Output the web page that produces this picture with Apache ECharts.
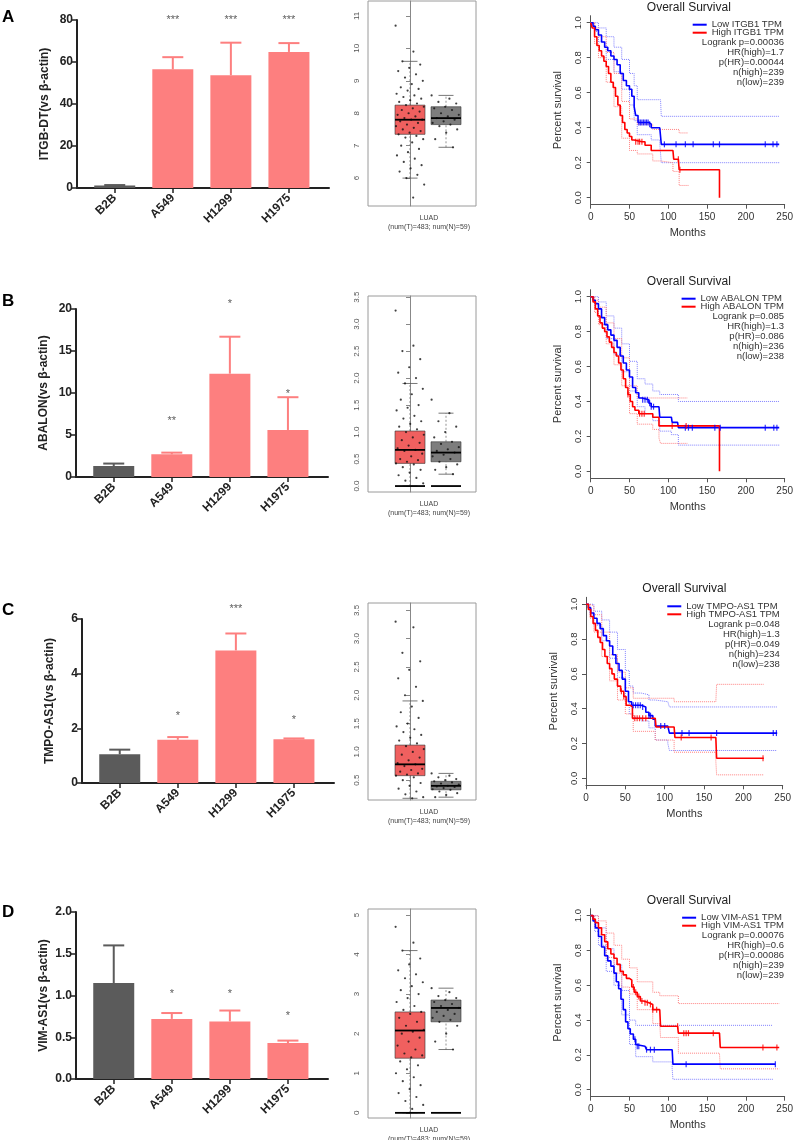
<!DOCTYPE html>
<html>
<head>
<meta charset="utf-8">
<title>ITGB-DT / ABALON / TMPO-AS1 / VIM-AS1</title>
<script src="https://cdn.jsdelivr.net/npm/echarts@6/dist/echarts.min.js"></script>
<style>
  html, body { margin: 0; padding: 0; background: #fff; }
  #main { width: 796px; height: 1140px; }
</style>
</head>
<body>
<div id="main"></div>
<script>
// ---------- 柱状图数据 ----------
const cellLines = ['B2B', 'A549', 'H1299', 'H1975'];
const genes = ['ITGB-DT', 'ABALON', 'TMPO-AS1', 'VIM-AS1'];
const panelLetters = ['A', 'B', 'C', 'D'];
const barMeans = [
    [1.2, 56.5, 53.7, 64.8],
    [1.3, 2.7, 12.3, 5.6],
    [1.05, 1.58, 4.85, 1.6],
    [1.15, 0.72, 0.69, 0.43]
];
const barErrors = [
    [0.2, 5.8, 15.5, 4.2],
    [0.3, 0.2, 4.4, 3.9],
    [0.17, 0.1, 0.62, 0.03],
    [0.45, 0.07, 0.13, 0.03]
];
const sigText = [
    ['', '***', '***', '***'],
    ['', '**', '*', '*'],
    ['', '*', '***', '*'],
    ['', '*', '*', '*']
];
const sigHeight = [
    [0, 81.5, 81.5, 81.5],
    [0, 7.0, 20.9, 10.3],
    [0, 2.57, 6.48, 2.42],
    [0, 1.06, 1.06, 0.79]
];
const barMax = [80, 20, 6, 2];
const barStep = [20, 5, 2, 0.5];

// ---------- 箱线图数据 (LUAD) ----------
const boxTicks = [
    [6, 7, 8, 9, 10, 11],
    [0, 0.5, 1, 1.5, 2, 2.5, 3, 3.5],
    [0.5, 1, 1.5, 2, 2.5, 3, 3.5],
    [0, 1, 2, 3, 4, 5]
];
const boxRange = [[5.14, 11.46], [-0.11, 3.52], [0.15, 3.63], [-0.13, 5.15]];
// [min, Q1, median, Q3, max]
const tumorStats = [
    [6.0, 7.35, 7.8, 8.25, 9.6],
    [0, 0.42, 0.67, 1.02, 1.9],
    [0.18, 0.58, 0.78, 1.12, 1.9],
    [0, 1.38, 2.08, 2.55, 4.1]
];
const normalStats = [
    [6.95, 7.65, 7.85, 8.2, 8.55],
    [0.22, 0.45, 0.62, 0.82, 1.35],
    [0.2, 0.33, 0.4, 0.48, 0.62],
    [1.6, 2.3, 2.65, 2.85, 3.15]
];
const zeroLine = [false, true, false, true];
const tumorPoints = [
    [10.7, 9.9, 9.6, 9.5, 9.4, 9.3, 9.2, 9.1, 9.0, 8.9, 8.8, 8.75, 8.7, 8.6, 8.55, 8.5, 8.45, 8.4, 8.35, 8.3, 8.25, 8.2, 8.15, 8.1, 8.05, 8.0, 7.95, 7.9, 7.85, 7.8, 7.8, 7.75, 7.7, 7.65, 7.6, 7.55, 7.5, 7.45, 7.4, 7.35, 7.3, 7.25, 7.2, 7.1, 7.0, 6.9, 6.8, 6.7, 6.6, 6.5, 6.4, 6.3, 6.2, 6.1, 6.0, 5.8, 5.4],
    [3.25, 2.6, 2.5, 2.35, 2.2, 2.1, 2.0, 1.9, 1.8, 1.7, 1.6, 1.5, 1.45, 1.4, 1.3, 1.25, 1.2, 1.15, 1.1, 1.05, 1.0, 0.95, 0.9, 0.85, 0.8, 0.75, 0.7, 0.67, 0.65, 0.6, 0.55, 0.5, 0.48, 0.45, 0.42, 0.4, 0.35, 0.3, 0.25, 0.2, 0.15, 0.1, 0.05],
    [3.3, 3.2, 2.75, 2.6, 2.45, 2.3, 2.15, 2.0, 1.9, 1.8, 1.7, 1.6, 1.5, 1.45, 1.4, 1.35, 1.3, 1.25, 1.2, 1.15, 1.1, 1.05, 1.0, 0.95, 0.9, 0.85, 0.8, 0.78, 0.75, 0.7, 0.68, 0.65, 0.62, 0.6, 0.58, 0.55, 0.5, 0.45, 0.4, 0.35, 0.3, 0.25, 0.2, 0.18],
    [4.7, 4.3, 4.1, 3.9, 3.75, 3.6, 3.5, 3.4, 3.3, 3.2, 3.1, 3.0, 2.9, 2.8, 2.7, 2.6, 2.55, 2.5, 2.4, 2.3, 2.2, 2.1, 2.05, 2.0, 1.9, 1.8, 1.7, 1.6, 1.5, 1.45, 1.4, 1.3, 1.2, 1.1, 1.0, 0.9, 0.8, 0.7, 0.6, 0.5, 0.4, 0.3, 0.2, 0.1]
];
const normalPoints = [
    [8.55, 8.45, 8.35, 8.3, 8.2, 8.15, 8.1, 8.0, 7.95, 7.9, 7.85, 7.8, 7.75, 7.7, 7.65, 7.6, 7.5, 7.4, 7.2, 6.95],
    [1.6, 1.35, 1.2, 1.1, 1.0, 0.9, 0.82, 0.78, 0.72, 0.68, 0.65, 0.62, 0.58, 0.55, 0.5, 0.45, 0.4, 0.35, 0.3, 0.22],
    [0.62, 0.58, 0.55, 0.52, 0.5, 0.48, 0.46, 0.44, 0.42, 0.4, 0.39, 0.38, 0.36, 0.34, 0.33, 0.3, 0.27, 0.24, 0.2],
    [3.15, 3.05, 2.95, 2.9, 2.85, 2.8, 2.75, 2.7, 2.65, 2.6, 2.55, 2.5, 2.45, 2.4, 2.35, 2.3, 2.2, 2.0, 1.8, 1.6]
];

// ---------- 生存曲线数据 ----------
const survGenes = ['ITGB1', 'ABALON', 'TMPO-AS1', 'VIM-AS1'];
const survStats = [
    ['Logrank p=0.00036', 'HR(high)=1.7', 'p(HR)=0.00044', 'n(high)=239', 'n(low)=239'],
    ['Logrank p=0.085', 'HR(high)=1.3', 'p(HR)=0.086', 'n(high)=236', 'n(low)=238'],
    ['Logrank p=0.048', 'HR(high)=1.3', 'p(HR)=0.049', 'n(high)=234', 'n(low)=238'],
    ['Logrank p=0.00076', 'HR(high)=0.6', 'p(HR)=0.00086', 'n(high)=239', 'n(low)=239']
];
const survTicksY = [0, 0.2, 0.4, 0.6, 0.8, 1.0];
const lowCurve = [
    [[0,1],[3,0.98],[6,0.96],[10,0.93],[14,0.89],[18,0.86],[22,0.84],[26,0.81],[30,0.79],[34,0.76],[38,0.71],[42,0.67],[46,0.64],[50,0.62],[53,0.58],[56,0.52],[58,0.47],[61,0.43],[75,0.42],[78,0.40],[89,0.40],[91,0.305],[243,0.305]],
    [[0,1],[3,0.98],[6,0.96],[10,0.93],[14,0.88],[18,0.84],[22,0.81],[26,0.78],[30,0.75],[34,0.71],[38,0.66],[42,0.62],[46,0.58],[50,0.54],[54,0.48],[58,0.45],[62,0.42],[66,0.41],[75,0.39],[78,0.37],[88,0.37],[89,0.31],[104,0.31],[105,0.28],[112,0.28],[113,0.25],[243,0.25]],
    [[0,1],[3,0.98],[6,0.95],[10,0.92],[14,0.89],[18,0.86],[22,0.82],[26,0.79],[30,0.76],[34,0.71],[38,0.66],[42,0.62],[46,0.57],[50,0.50],[54,0.44],[58,0.42],[70,0.41],[76,0.38],[80,0.36],[85,0.34],[88,0.30],[104,0.30],[106,0.26],[243,0.26]],
    [[0,1],[3,0.97],[6,0.93],[10,0.88],[14,0.82],[18,0.77],[22,0.74],[26,0.71],[30,0.67],[33,0.62],[36,0.58],[39,0.52],[42,0.46],[45,0.39],[48,0.35],[51,0.32],[55,0.29],[58,0.26],[60,0.25],[70,0.25],[72,0.23],[105,0.23],[106,0.147],[238,0.147]]
];
const highCurve = [
    [[0,1],[2,0.97],[5,0.92],[8,0.87],[11,0.84],[14,0.81],[17,0.78],[20,0.75],[23,0.71],[26,0.66],[29,0.63],[32,0.58],[35,0.53],[38,0.47],[41,0.43],[44,0.39],[47,0.37],[50,0.35],[53,0.33],[56,0.32],[66,0.32],[70,0.30],[78,0.27],[106,0.27],[107,0.22],[113,0.22],[114,0.16],[166,0.16],[166,0]],
    [[0,1],[3,0.97],[6,0.93],[9,0.89],[12,0.85],[15,0.82],[18,0.80],[21,0.77],[24,0.74],[27,0.71],[30,0.68],[33,0.66],[36,0.62],[39,0.58],[42,0.53],[45,0.48],[48,0.44],[51,0.40],[54,0.37],[57,0.35],[62,0.33],[75,0.33],[80,0.31],[88,0.26],[166,0.26],[166,0]],
    [[0,1],[3,0.97],[6,0.93],[9,0.89],[12,0.85],[15,0.81],[18,0.78],[21,0.74],[24,0.70],[27,0.66],[30,0.63],[33,0.60],[36,0.57],[40,0.53],[44,0.50],[48,0.47],[51,0.42],[56,0.41],[59,0.345],[88,0.345],[89,0.295],[112,0.295],[113,0.235],[165,0.235],[166,0.115],[226,0.115]],
    [[0,1],[3,0.98],[6,0.96],[10,0.93],[14,0.89],[18,0.85],[22,0.81],[26,0.78],[30,0.755],[34,0.72],[38,0.68],[42,0.66],[46,0.64],[50,0.63],[53,0.59],[56,0.56],[60,0.535],[64,0.51],[68,0.50],[75,0.49],[80,0.46],[89,0.46],[90,0.365],[112,0.365],[113,0.325],[166,0.325],[167,0.243],[243,0.243]]
];
const lowUpper = [
    [[0,1],[5,1],[10,0.97],[20,0.92],[30,0.86],[40,0.79],[50,0.71],[56,0.64],[60,0.56],[90,0.56],[91,0.465],[243,0.465]],
    [[0,1],[5,1],[10,0.97],[20,0.89],[30,0.82],[40,0.73],[50,0.63],[60,0.53],[70,0.50],[80,0.46],[89,0.44],[104,0.44],[113,0.40],[243,0.40]],
    [[0,1],[5,1],[10,0.96],[20,0.91],[30,0.84],[40,0.74],[50,0.62],[55,0.53],[60,0.49],[70,0.48],[80,0.45],[88,0.44],[104,0.43],[106,0.41],[243,0.41]],
    [[0,1],[5,1],[10,0.93],[20,0.81],[30,0.72],[40,0.57],[50,0.40],[58,0.37],[105,0.37],[235,0.37]]
];
const lowLower = [
    [[0,1],[5,0.95],[10,0.89],[20,0.79],[30,0.72],[40,0.62],[50,0.53],[56,0.44],[60,0.36],[78,0.33],[89,0.31],[91,0.2],[243,0.2]],
    [[0,1],[5,0.93],[10,0.88],[20,0.76],[30,0.67],[40,0.57],[50,0.46],[60,0.37],[70,0.33],[80,0.29],[89,0.23],[104,0.21],[113,0.15],[243,0.15]],
    [[0,1],[5,0.94],[10,0.88],[20,0.79],[30,0.69],[40,0.58],[50,0.45],[55,0.37],[60,0.35],[70,0.33],[80,0.29],[88,0.22],[104,0.20],[106,0.16],[243,0.16]],
    [[0,1],[5,0.91],[10,0.83],[20,0.68],[30,0.60],[40,0.43],[50,0.26],[58,0.19],[80,0.16],[105,0.12],[106,0.06],[235,0.06]]
];
const highUpper = [
    [[0,1],[5,0.97],[10,0.92],[20,0.83],[30,0.71],[40,0.55],[50,0.45],[60,0.42],[80,0.39],[106,0.39],[114,0.37],[126,0.37]],
    [[0,1],[5,0.98],[10,0.94],[20,0.85],[30,0.76],[40,0.65],[50,0.49],[60,0.42],[88,0.42],[125,0.42]],
    [[0,1],[5,0.99],[10,0.94],[20,0.84],[30,0.71],[40,0.61],[50,0.52],[60,0.46],[88,0.46],[112,0.44],[165,0.44],[166,0.54],[226,0.54]],
    [[0,1],[5,1],[10,0.97],[20,0.90],[30,0.83],[40,0.75],[50,0.70],[60,0.62],[80,0.56],[89,0.54],[113,0.495],[243,0.495]]
];
const highLower = [
    [[0,1],[5,0.88],[10,0.80],[20,0.66],[30,0.52],[40,0.34],[50,0.27],[60,0.25],[80,0.21],[90,0.20],[106,0.15],[114,0.07],[126,0.07]],
    [[0,1],[5,0.91],[10,0.84],[20,0.73],[30,0.61],[40,0.49],[50,0.33],[60,0.27],[80,0.24],[88,0.19],[90,0.16],[125,0.16]],
    [[0,1],[5,0.92],[10,0.84],[20,0.70],[30,0.56],[40,0.45],[50,0.37],[60,0.27],[88,0.22],[112,0.15],[165,0.10],[166,0.02],[226,0.02]],
    [[0,1],[5,0.94],[10,0.89],[20,0.76],[30,0.67],[40,0.59],[50,0.55],[60,0.46],[80,0.38],[89,0.37],[90,0.30],[113,0.21],[166,0.21],[167,0.12],[243,0.12]]
];
const lowCensor = [
    [62, 64, 66, 68, 70, 72, 74, 76, 95, 110, 122, 132, 158, 166, 225, 235, 240],
    [67, 70, 73, 76, 78, 81, 122, 126, 131, 160, 167, 225, 236, 240],
    [60, 63, 66, 69, 72, 80, 82, 95, 100, 122, 131, 166, 238, 242],
    [57, 60, 62, 72, 77, 82, 123, 238]
];
const highCensor = [
    [58, 61, 63, 66, 113, 115],
    [48, 63, 66, 69, 105, 123],
    [45, 48, 62, 65, 68, 72, 76, 121, 159, 225],
    [55, 58, 62, 66, 70, 73, 77, 80, 85, 112, 120, 123, 126, 158, 222, 240]
];

// ---------- 布局 ----------
const FONT = 'Liberation Sans, Arial, Helvetica, sans-serif';
const PINK = '#fd7f7f';
const GRAY = '#5b5b5b';
const TUMOR = '#f0605f';
const NORMAL = '#7d7d7d';
const BLUE = '#0000ff';
const RED = '#ff0000';

const barGrid = [
    { left: 77, top: 20, height: 168 },
    { left: 76, top: 309, height: 168 },
    { left: 82, top: 619, height: 164 },
    { left: 76, top: 912, height: 167 }
];
const letterY = [17.5, 301.5, 610, 912];
const boxGrid = [
    { top: 1, bottom: 206 },
    { top: 296, bottom: 492 },
    { top: 603, bottom: 800 },
    { top: 909, bottom: 1118 }
];
const BOX_LEFT = 368, BOX_WIDTH = 108, BOX_W = 0.833;
const survGrid = [
    { left: 590.7, top: 15.7, width: 196.3, height: 189 },
    { left: 590.7, top: 289.7, width: 196.3, height: 188.6 },
    { left: 586, top: 597.3, width: 196.7, height: 188 },
    { left: 590.7, top: 908.7, width: 196.3, height: 188 }
];

const grid = [], xAxis = [], yAxis = [], series = [], legend = [], graphic = [];

function survAt(curve, t) {
    let s = curve[0][1];
    for (const p of curve) {
        if (p[0] <= t) s = p[1]; else break;
    }
    return s;
}

function fmt1(v) { return Number(v).toFixed(1); }

for (let r = 0; r < 4; r++) {
    // ===== 柱状图 =====
    let gi = grid.length;
    grid.push({ left: barGrid[r].left, top: barGrid[r].top, width: 252, height: barGrid[r].height });
    xAxis.push({
        gridIndex: gi, type: 'value', min: -0.65, max: 3.69,
        axisLine: { onZero: false, lineStyle: { color: '#222', width: 2 } },
        axisTick: { customValues: [0, 1, 2, 3], length: 5, lineStyle: { color: '#222', width: 1.5 } },
        axisLabel: {
            customValues: [0, 1, 2, 3], rotate: 45, margin: 8,
            formatter: v => cellLines[v],
            fontFamily: FONT, fontWeight: 'bold', fontSize: 12, color: '#222'
        },
        splitLine: { show: false }
    });
    yAxis.push({
        gridIndex: gi, type: 'value', min: 0, max: barMax[r], interval: barStep[r],
        axisLine: { show: true, onZero: false, lineStyle: { color: '#222', width: 2 } },
        axisTick: { show: true, length: 5, lineStyle: { color: '#222', width: 1.5 } },
        axisLabel: {
            formatter: r === 3 ? fmt1 : (v => v), margin: 4,
            fontFamily: FONT, fontWeight: 'bold', fontSize: 12, color: '#222'
        },
        splitLine: { show: false },
        name: genes[r] + '(vs β-actin)', nameLocation: 'middle', nameGap: 26,
        nameTextStyle: { fontFamily: FONT, fontWeight: 'bold', fontSize: 12, color: '#222' }
    });
    series.push({
        type: 'bar', xAxisIndex: gi, yAxisIndex: gi, barWidth: 41, z: 2,
        data: barMeans[r].map((v, i) => ({ value: [i, v], itemStyle: { color: i === 0 ? GRAY : PINK } }))
    });
    series.push({
        type: 'custom', xAxisIndex: gi, yAxisIndex: gi, z: 3,
        encode: { x: 0, y: 1 },
        data: barMeans[r].map((v, i) => [i, v, barErrors[r][i]]),
        renderItem: (params, api) => {
            const x = api.value(0), m = api.value(1), e = api.value(2);
            const p0 = api.coord([x, m]), p1 = api.coord([x, m + e]);
            const color = x === 0 ? GRAY : PINK;
            return {
                type: 'group', children: [
                    { type: 'line', shape: { x1: p0[0], y1: p0[1], x2: p1[0], y2: p1[1] }, style: { stroke: color, lineWidth: 2 } },
                    { type: 'line', shape: { x1: p1[0] - 10.5, y1: p1[1], x2: p1[0] + 10.5, y2: p1[1] }, style: { stroke: color, lineWidth: 2 } }
                ]
            };
        }
    });
    series.push({
        type: 'scatter', xAxisIndex: gi, yAxisIndex: gi, clip: false, symbolSize: 1, z: 4,
        itemStyle: { color: 'transparent' },
        data: sigHeight[r].map((h, i) => [i, h]).filter((d, i) => sigText[r][i] !== ''),
        label: {
            show: true, position: 'inside', offset: [0, 3],
            formatter: p => sigText[r][p.data[0]],
            fontFamily: FONT, fontSize: 11, color: '#333'
        }
    });
    graphic.push({
        type: 'text', x: 2, y: letterY[r],
        style: { text: panelLetters[r], fontFamily: FONT, fontSize: 17, fontWeight: 'bold', fill: '#000', verticalAlign: 'middle' }
    });

    // ===== 箱线图 =====
    gi = grid.length;
    const bg = boxGrid[r];
    grid.push({ left: BOX_LEFT, top: bg.top, width: BOX_WIDTH, height: bg.bottom - bg.top, show: true, borderColor: '#9a9a9a', borderWidth: 1 });
    xAxis.push({ gridIndex: gi, type: 'value', min: -1.167, max: 1.833, show: false });
    yAxis.push({
        gridIndex: gi, type: 'value', min: boxRange[r][0], max: boxRange[r][1], offset: 5,
        axisLine: { show: true, lineStyle: { color: '#888', width: 1 } },
        axisTick: { show: true, customValues: boxTicks[r], length: 4, lineStyle: { color: '#888' } },
        axisLabel: {
            customValues: boxTicks[r], rotate: 90, margin: 2,
            formatter: (r === 0 || r === 3) ? (v => String(v)) : fmt1,
            fontFamily: FONT, fontSize: 8, color: '#555'
        },
        splitLine: { show: false }
    });
    const boxData = [[0].concat(tumorStats[r]), [1].concat(normalStats[r])];
    series.push({
        type: 'custom', xAxisIndex: gi, yAxisIndex: gi, z: 2,
        encode: { x: 0, y: [1, 5] },
        data: boxData,
        renderItem: (params, api) => {
            const x = api.value(0);
            const pMin = api.coord([x, api.value(1)]);
            const pQ1 = api.coord([x, api.value(2)]);
            const pQ3 = api.coord([x, api.value(4)]);
            const pMax = api.coord([x, api.value(5)]);
            const hw = api.size([BOX_W, 0])[0] / 2;
            const cx = pMin[0];
            const dash = { stroke: '#777', lineWidth: 0.8, lineDash: [2, 2] };
            const cap = { stroke: '#555', lineWidth: 0.8 };
            return {
                type: 'group', children: [
                    { type: 'line', shape: { x1: cx, y1: pMin[1], x2: cx, y2: pQ1[1] }, style: dash },
                    { type: 'line', shape: { x1: cx, y1: pQ3[1], x2: cx, y2: pMax[1] }, style: dash },
                    { type: 'line', shape: { x1: cx - hw / 2, y1: pMin[1], x2: cx + hw / 2, y2: pMin[1] }, style: cap },
                    { type: 'line', shape: { x1: cx - hw / 2, y1: pMax[1], x2: cx + hw / 2, y2: pMax[1] }, style: cap },
                    { type: 'rect', shape: { x: cx - hw, y: pQ3[1], width: hw * 2, height: pQ1[1] - pQ3[1] },
                      style: { fill: x === 0 ? TUMOR : NORMAL, stroke: '#333', lineWidth: 0.6 } }
                ]
            };
        }
    });
    const pts = [];
    tumorPoints[r].forEach((v, i) => pts.push([((i * 0.618034) % 1 - 0.5) * 0.8, v]));
    normalPoints[r].forEach((v, i) => pts.push([1 + ((i * 0.618034) % 1 - 0.5) * 0.8, v]));
    series.push({
        type: 'scatter', xAxisIndex: gi, yAxisIndex: gi, z: 3, symbolSize: 2.2,
        itemStyle: { color: '#111' }, data: pts
    });
    series.push({
        type: 'custom', xAxisIndex: gi, yAxisIndex: gi, z: 4,
        encode: { x: 0, y: 3 },
        data: boxData,
        renderItem: (params, api) => {
            const x = api.value(0);
            const pMed = api.coord([x, api.value(3)]);
            const p0 = api.coord([x, 0]);
            const hw = api.size([BOX_W, 0])[0] / 2;
            const children = [
                { type: 'line', shape: { x1: pMed[0] - hw, y1: pMed[1], x2: pMed[0] + hw, y2: pMed[1] }, style: { stroke: '#000', lineWidth: 1.8 } }
            ];
            if (zeroLine[r]) {
                children.push({ type: 'line', shape: { x1: p0[0] - hw, y1: p0[1], x2: p0[0] + hw, y2: p0[1] }, style: { stroke: '#000', lineWidth: 1.8 } });
            }
            return { type: 'group', children };
        }
    });
    graphic.push({
        type: 'text', x: 429, y: bg.bottom + 12,
        style: { text: 'LUAD', fontFamily: FONT, fontSize: 7, fill: '#444', align: 'center', verticalAlign: 'middle' }
    });
    graphic.push({
        type: 'text', x: 429, y: bg.bottom + 21,
        style: { text: '(num(T)=483; num(N)=59)', fontFamily: FONT, fontSize: 7, fill: '#444', align: 'center', verticalAlign: 'middle' }
    });

    // ===== 生存曲线 =====
    gi = grid.length;
    const sg = survGrid[r];
    grid.push({ left: sg.left, top: sg.top, width: sg.width, height: sg.height });
    xAxis.push({
        gridIndex: gi, type: 'value', min: 0, max: 250, interval: 50,
        axisLine: { onZero: false, lineStyle: { color: '#555', width: 1 } },
        axisTick: { show: true, length: 4, lineStyle: { color: '#555' } },
        axisLabel: { margin: 8, fontFamily: FONT, fontSize: 10, color: '#333' },
        splitLine: { show: false },
        name: 'Months', nameLocation: 'middle', nameGap: 23,
        nameTextStyle: { fontFamily: FONT, fontSize: 11, color: '#333' }
    });
    yAxis.push({
        gridIndex: gi, type: 'value', min: -0.04, max: 1.04,
        axisLine: { show: true, onZero: false, lineStyle: { color: '#555', width: 1 } },
        axisTick: { show: true, customValues: survTicksY, length: 4, lineStyle: { color: '#555' } },
        axisLabel: { customValues: survTicksY, rotate: 90, margin: 7, formatter: fmt1, fontFamily: FONT, fontSize: 9.5, color: '#333' },
        splitLine: { show: false },
        name: 'Percent survival', nameLocation: 'middle', nameGap: 27,
        nameTextStyle: { fontFamily: FONT, fontSize: 11, color: '#333' }
    });
    const lowName = 'Low ' + survGenes[r] + ' TPM';
    const highName = 'High ' + survGenes[r] + ' TPM';
    const ci = (name, data, color) => ({
        name, type: 'line', step: 'end', xAxisIndex: gi, yAxisIndex: gi, data, showSymbol: false, silent: true, z: 2,
        lineStyle: { color, width: 1, type: 'dotted' }, itemStyle: { color }
    });
    series.push(ci('lowUp' + r, lowUpper[r], '#8080ff'));
    series.push(ci('lowDn' + r, lowLower[r], '#8080ff'));
    series.push(ci('highUp' + r, highUpper[r], '#ff8080'));
    series.push(ci('highDn' + r, highLower[r], '#ff8080'));
    series.push({
        name: lowName, type: 'line', step: 'end', xAxisIndex: gi, yAxisIndex: gi, data: lowCurve[r],
        showSymbol: false, z: 3, lineStyle: { color: BLUE, width: 1.6 }, itemStyle: { color: BLUE }
    });
    series.push({
        name: highName, type: 'line', step: 'end', xAxisIndex: gi, yAxisIndex: gi, data: highCurve[r],
        showSymbol: false, z: 3, lineStyle: { color: RED, width: 1.6 }, itemStyle: { color: RED }
    });
    series.push({
        type: 'scatter', xAxisIndex: gi, yAxisIndex: gi, z: 4, symbol: 'rect', symbolSize: [1.2, 6],
        itemStyle: { color: BLUE }, data: lowCensor[r].map(t => [t, survAt(lowCurve[r], t)])
    });
    series.push({
        type: 'scatter', xAxisIndex: gi, yAxisIndex: gi, z: 4, symbol: 'rect', symbolSize: [1.2, 6],
        itemStyle: { color: RED }, data: highCensor[r].map(t => [t, survAt(highCurve[r], t)])
    });
    const rightEdge = sg.left + sg.width - 3;
    legend.push({
        data: [lowName, highName], orient: 'vertical', selectedMode: false,
        right: 796 - rightEdge, top: sg.top + 4, padding: 0, itemGap: -2,
        itemWidth: 14, itemHeight: 2, icon: 'rect',
        textStyle: { fontFamily: FONT, fontSize: 9.5, color: '#333', lineHeight: 10 }
    });
    graphic.push({
        type: 'text', x: rightEdge, y: sg.top + 22,
        style: { text: survStats[r].join('\n'), fontFamily: FONT, fontSize: 9.5, lineHeight: 10, fill: '#333', align: 'right', verticalAlign: 'top' }
    });
    graphic.push({
        type: 'text', x: sg.left + sg.width / 2, y: sg.top - 8.5,
        style: { text: 'Overall Survival', fontFamily: FONT, fontSize: 12, fill: '#222', align: 'center', verticalAlign: 'middle' }
    });
}

const chart = echarts.init(document.getElementById('main'));
chart.setOption({
    backgroundColor: '#fff',
    animation: false,
    grid, xAxis, yAxis, series, legend, graphic
});
</script>
</body>
</html>
